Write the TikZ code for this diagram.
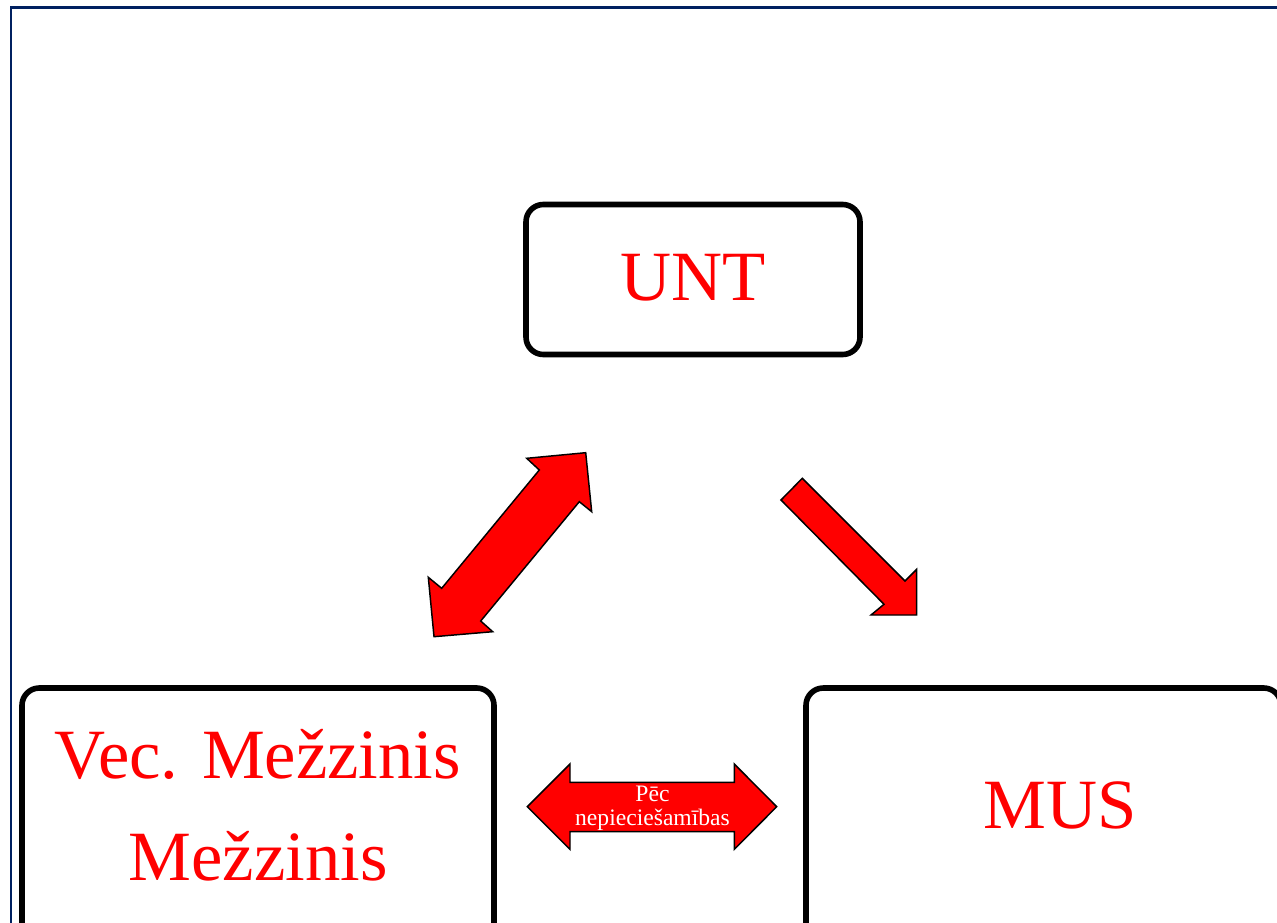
\documentclass[tikz,border=0pt]{standalone}
\usepackage{fontspec}
\setmainfont{Liberation Serif}
\definecolor{framenavy}{RGB}{0,32,96}
\definecolor{pptred}{RGB}{255,0,0}
\begin{document}
\begin{tikzpicture}[x=0.75pt,y=-0.75pt,
  box/.style={draw=black, line width=4.2pt, rounded corners=13pt, fill=white, inner sep=0pt},
  bigtext/.style={text=pptred, font=\fontsize{53}{60}\selectfont, inner sep=0pt, anchor=base},
  smalltext/.style={text=white, font=\fontsize{17.7}{18}\selectfont, inner sep=0pt, anchor=base},
  blockarrow/.style={fill=pptred, draw=black, line width=1.1pt, line join=miter}]
\useasboundingbox (0,0) rectangle (1277,923);
\clip (0,0) rectangle (1277,923);
% frame
\draw[framenavy, line width=1.9pt] (11,960) -- (11,7.7) -- (1300,7.7);
% boxes
\node[box, minimum width=250.5pt, minimum height=112.5pt] (unt) at (693,279.5) {};
\node[box, minimum width=354pt, minimum height=204pt] (mez) at (258,824) {};
\node[box, minimum width=356.25pt, minimum height=204pt] (mus) at (1043.5,824) {};
% labels
\node[bigtext] (untl) at (693,301) {UNT};
\node[bigtext] (mezl1) at (258,778.3) {Vec. Mežzinis};
\node[bigtext] (mezl2) at (258,880) {Mežzinis};
\node[bigtext] (musl) at (1060,828.3) {MUS};
% diagonal double arrow UNT <-> Mezzinis
\draw[blockarrow] (585.7,452.7) -- (591.7,511.7) -- (579.3,501.7) -- (480.7,621) -- (492.7,631.7)
  -- (434,636.7) -- (428.3,577.3) -- (441.7,588.3) -- (539.3,470) -- (526.7,458.3) -- cycle;
% single arrow UNT -> MUS
\draw[blockarrow] (802.3,478.3) -- (905,581) -- (916.7,569.3) -- (916.7,615) -- (871,615)
  -- (884,604.3) -- (781,500) -- cycle;
% horizontal double arrow
\draw[blockarrow] (527.3,806.7) -- (570,764) -- (570,782.3) -- (734.3,782.3) -- (734.3,764)
  -- (776.7,806.7) -- (734.3,849.3) -- (734.3,831.7) -- (570,831.7) -- (570,849.3) -- cycle;
\node[smalltext] (pec1) at (652.5,801.7) {Pēc};
\node[smalltext] (pec2) at (652.5,825.7) {nepieciešamības};
\end{tikzpicture}
\end{document}
